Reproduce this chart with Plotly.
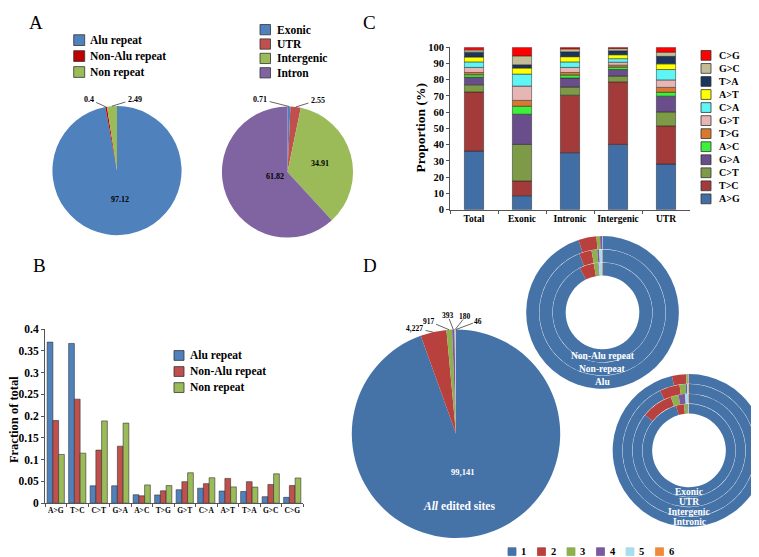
import math
import plotly.graph_objects as go

W, H = 759, 557
SERIF = "Liberation Serif, Times New Roman, serif"

# ---------------- data ----------------
# Panel A
a1_labels = ["Alu repeat", "Non-Alu repeat", "Non repeat"]
a1_values = [97.12, 0.4, 2.49]
a1_colors = ["#4F81BD", "#C00000", "#9BBB59"]
a2_labels = ["Exonic", "UTR", "Intergenic", "Intron"]
a2_values = [0.71, 2.55, 34.91, 61.82]
a2_colors = ["#4F81BD", "#C0504D", "#9BBB59", "#8064A2"]

# Panel B
b_categories = ["A>G", "T>C", "C>T", "G>A", "A>C", "T>G", "G>T", "C>A", "A>T", "T>A", "G>C", "C>G"]
b_series = ["Alu repeat", "Non-Alu repeat", "Non repeat"]
b_alu = [0.370, 0.367, 0.040, 0.040, 0.0195, 0.019, 0.031, 0.0345, 0.028, 0.027, 0.015, 0.0135]
b_nonalu = [0.190, 0.239, 0.122, 0.131, 0.017, 0.0285, 0.0495, 0.045, 0.057, 0.0495, 0.043, 0.0405]
b_nonrep = [0.112, 0.115, 0.189, 0.184, 0.042, 0.0405, 0.070, 0.0585, 0.0375, 0.037, 0.0675, 0.058]
b_colors = ["#4F81BD", "#C0504D", "#9BBB59"]
b_yticks = [0, 0.05, 0.1, 0.15, 0.2, 0.25, 0.3, 0.35, 0.4]

# Panel C
c_categories = ["Total", "Exonic", "Intronic", "Intergenic", "UTR"]
c_types = ["A>G", "T>C", "C>T", "G>A", "A>C", "T>G", "G>T", "C>A", "A>T", "T>A", "G>C", "C>G"]
c_total = [36.1, 36.4, 4.4, 4.6, 1.6, 1.4, 3.1, 3.4, 3.0, 3.0, 1.4, 1.6]
c_exonic = [8.6, 9.1, 22.5, 18.6, 4.9, 3.6, 8.8, 7.4, 3.7, 2.0, 5.5, 5.3]
c_intronic = [35.1, 35.4, 5.0, 5.6, 1.8, 1.6, 3.1, 3.4, 3.2, 3.0, 1.8, 1.0]
c_intergenic = [40.2, 38.5, 3.6, 4.0, 1.5, 1.2, 1.8, 2.2, 2.4, 2.4, 1.4, 0.8]
c_utr = [28.1, 23.5, 8.6, 9.7, 2.4, 3.0, 4.6, 6.4, 3.5, 4.6, 2.6, 3.0]
c_colors = ["#426EA6", "#A23B39", "#7D9B46", "#6A4E8C", "#3CF03C", "#D9782F",
            "#E6B6B6", "#5FF5F5", "#FFFF00", "#1B355C", "#C4BC96", "#FF0000"]

# Panel D
d_classes = ["1", "2", "3", "4", "5", "6"]
d_all = [99141, 4227, 917, 393, 180, 46]
d_alu = [94.9, 3.83, 0.75, 0.42, 0.08, 0.02]
d_nonrepeat = [94.0, 3.2, 1.45, 0.5, 0.75, 0.1]
d_nonalu = [92.5, 4.67, 1.36, 0.22, 1.03, 0.22]
d_intronic = [96.4, 3.0, 0.33, 0.12, 0.05, 0.1]
d_intergenic = [92.8, 4.9, 1.5, 0.3, 0.36, 0.14]
d_utr = [85.8, 9.0, 2.2, 1.9, 0.9, 0.2]
d_exonic = [95.5, 2.75, 1.2, 0.25, 0.2, 0.1]
d_colors = ["#4573A8", "#B8413E", "#8EB04E", "#7A5A9E", "#A9DCEC", "#F08A3A"]

# ---------------- helpers ----------------
def fx(x):
    return x / W

def fy(y):
    return 1 - y / H

shapes = []
ann = []

def font(size, color="#000000", bold=True, italic=False):
    return dict(family=SERIF, size=size, color=color,
                weight="bold" if bold else "normal",
                style="italic" if italic else "normal")

def text(x, y, s, size, color="#000000", bold=True, italic=False, xanchor="center", angle=0):
    ann.append(dict(x=fx(x), y=fy(y), xref="paper", yref="paper", text=s, showarrow=False,
                    xanchor=xanchor, yanchor="middle", textangle=angle,
                    font=font(size, color, bold, italic)))

def pointer(px_, py_, lx, ly, s, size):
    """Label at (lx, ly) with a leader line to the slice edge point (px_, py_)."""
    text(lx, ly, s, size)
    hw = 0.27 * size * len(s) + 1
    hh = 0.42 * size
    dx, dy = px_ - lx, py_ - ly
    t = min(hw / abs(dx) if dx else 1e9, hh / abs(dy) if dy else 1e9)
    tx, ty = lx + t * dx, ly + t * dy
    shapes.append(dict(type="line", xref="paper", yref="paper",
                       x0=fx(tx), y0=fy(ty), x1=fx(px_), y1=fy(py_),
                       line=dict(color="#222", width=0.7)))

def swatch(x, yc, size, color, label, fsize, gap=4, line="#333"):
    shapes.append(dict(type="rect", xref="paper", yref="paper",
                       x0=fx(x), x1=fx(x + size), y0=fy(yc + size / 2), y1=fy(yc - size / 2),
                       fillcolor=color, line=dict(color=line, width=0.8)))
    text(x + size + gap, yc, label, fsize, xanchor="left")

def domain(cx, cy, r):
    return dict(x=[fx(cx - r), fx(cx + r)], y=[fy(cy + r), fy(cy - r)])

def angles(values):
    tot = float(sum(values))
    out, acc = [], 0.0
    for v in values:
        out.append((acc / tot * 360, (acc + v) / tot * 360))
        acc += v
    return out

def polar(cx, cy, r, deg):
    a = math.radians(deg)
    return cx + r * math.sin(a), cy - r * math.cos(a)

fig = go.Figure()

def pie(values, colors, cx, cy, r, hole=0.0):
    fig.add_trace(go.Pie(values=values, labels=[str(i) for i in range(len(values))],
                         marker=dict(colors=colors, line=dict(width=0)),
                         sort=False, direction="clockwise", rotation=0, hole=hole,
                         textinfo="none", hoverinfo="value", showlegend=False,
                         domain=domain(cx, cy, r)))

# ---------------- Panel A ----------------
A1 = (109, 160, 66)
pie(a1_values, a1_colors, *A1)
ang1 = angles(a1_values)
a1_outside = {1: (81, 87), 2: (127, 87)}
for i, v in enumerate(a1_values):
    mid = sum(ang1[i]) / 2
    if i in a1_outside:
        ex, ey = polar(A1[0], A1[1], A1[2], mid)
        pointer(ex, ey, *a1_outside[i], str(v), 8)
    else:
        tx, ty = polar(A1[0], A1[1], A1[2] * 0.45, mid)
        text(tx, ty, str(v), 8)

A2 = (279.5, 161.5, 67)
pie(a2_values, a2_colors, *A2)
ang2 = angles(a2_values)
a2_outside = {0: (252, 87), 1: (310, 88)}
a2_radial = {2: 0.5, 3: 0.2}
for i, v in enumerate(a2_values):
    mid = sum(ang2[i]) / 2
    if i in a2_outside:
        ex, ey = polar(A2[0], A2[1], A2[2], mid)
        pointer(ex, ey, *a2_outside[i], str(v), 8)
    else:
        tx, ty = polar(A2[0], A2[1], A2[2] * a2_radial[i], mid)
        text(tx, ty, str(v), 8)

for k, (lab, col) in enumerate(zip(a1_labels, a1_colors)):
    swatch(65.7, 26.7 + 16.3 * k, 11, col, lab, 11.5, gap=3.5)
for k, (lab, col) in enumerate(zip(a2_labels, a2_colors)):
    swatch(252, 16 + 14.7 * k, 10.5, col, lab, 11.5, gap=4)

# ---------------- Panel B ----------------
for i, (name, vals, col) in enumerate(zip(b_series, [b_alu, b_nonalu, b_nonrep], b_colors)):
    fig.add_trace(go.Bar(x=b_categories, y=vals, name=name, width=0.8 / 3,
                         offset=-0.4 + i * 0.8 / 3,
                         marker=dict(color=col, line=dict(color="#333", width=0.6)),
                         xaxis="x", yaxis="y", showlegend=False))
for k, (lab, col) in enumerate(zip(b_series, b_colors)):
    swatch(166, 349 + 16.4 * k, 10, col, lab, 11.5, gap=4)
text(6, 415, "Fraction of total", 12.5, angle=-90)

# ---------------- Panel C ----------------
c_regions = [c_total, c_exonic, c_intronic, c_intergenic, c_utr]
for j, t in enumerate(c_types):
    fig.add_trace(go.Bar(x=c_categories, y=[r[j] for r in c_regions],
                         base=[sum(r[:j]) for r in c_regions], width=0.4, name=t,
                         marker=dict(color=c_colors[j], line=dict(color="#222", width=0.5)),
                         xaxis="x2", yaxis="y2", showlegend=False))
for k in range(len(c_types)):
    j = len(c_types) - 1 - k
    swatch(693, 42.3 + 13.33 * k, 10, c_colors[j], c_types[j], 10, gap=6)
text(412, 117, "Proportion (%)", 13.5, angle=-90)

# ---------------- Panel D ----------------
D0 = (448, 429, 106.5)
pie(d_all, d_colors, *D0)
angd = angles(d_all)
d_label_pos = [None, (406.5, 321), (421, 314), (440, 308.5), (457.5, 309), (470, 314)]
for i, v in enumerate(d_all):
    if d_label_pos[i] is None:
        continue
    mid = sum(angd[i]) / 2
    ex, ey = polar(D0[0], D0[1], D0[2], mid)
    pointer(ex, ey, *d_label_pos[i], f"{v:,}", 7.5)
mid0 = sum(angd[0]) / 2
tx, ty = polar(D0[0], D0[1], D0[2] * 0.37, mid0)
text(tx, ty, f"{d_all[0]:,}", 8.5, color="white")
text(D0[0] + 3, D0[1] + 74, "<i>All</i> edited sites", 11.5, color="white")

def donut(rings, names, cx, cy, R, rin):
    w = (R - rin) / len(rings)
    for k, (vals, nm) in enumerate(zip(rings, names)):
        ro = R - k * w
        ri = ro - w + 0.35
        pie(vals, d_colors, cx, cy, ro, hole=ri / ro)
        text(cx, cy + ro - w / 2, nm, 9.5, color="white")

donut([d_alu, d_nonrepeat, d_nonalu], ["Alu", "Non-repeat", "Non-Alu repeat"], 594.5, 305, 78, 37.3)
donut([d_intronic, d_intergenic, d_utr, d_exonic], ["Intronic", "Intergenic", "UTR", "Exonic"],
      681, 446, 78, 37.3)

for k, (lab, col) in enumerate(zip(d_classes, d_colors)):
    swatch(500 + 29.5 * k, 549.5, 8, col, lab, 10.5, gap=3, line=col)

# panel letters
text(28, 9, "A", 19, bold=False)
text(361, 9, "C", 19, bold=False)
text(31, 257, "B", 19, bold=False)
text(362, 257, "D", 19, bold=False)

# ---------------- layout ----------------
axis_common = dict(showgrid=False, zeroline=False, showline=True, linecolor="#555", linewidth=1,
                   ticks="outside", ticklen=3, tickcolor="#555", fixedrange=True)
fig.update_layout(
    width=W, height=H, margin=dict(l=0, r=0, t=0, b=0),
    paper_bgcolor="white", plot_bgcolor="white",
    barmode="overlay", showlegend=False,
    xaxis=dict(domain=[fx(37), fx(295)], anchor="y", type="category",
               range=[-0.5, len(b_categories) - 0.5], tickson="boundaries", tickangle=0,
               tickfont=font(7.5), **axis_common),
    yaxis=dict(domain=[fy(500), fy(322)], anchor="x", range=[0, 0.4],
               tickvals=b_yticks, ticktext=[f"{v:g}" for v in b_yticks],
               tickfont=font(11.5), **axis_common),
    xaxis2=dict(domain=[fx(442), fx(682)], anchor="y2", type="category",
                range=[-0.5, len(c_categories) - 0.5], tickson="boundaries", tickangle=0,
                tickfont=font(9.5), **axis_common),
    yaxis2=dict(domain=[fy(200), fy(34)], anchor="x2", range=[0, 100], dtick=10,
                tickfont=font(10.5), **axis_common),
    shapes=shapes, annotations=ann,
)

fig.write_html("out.html")
